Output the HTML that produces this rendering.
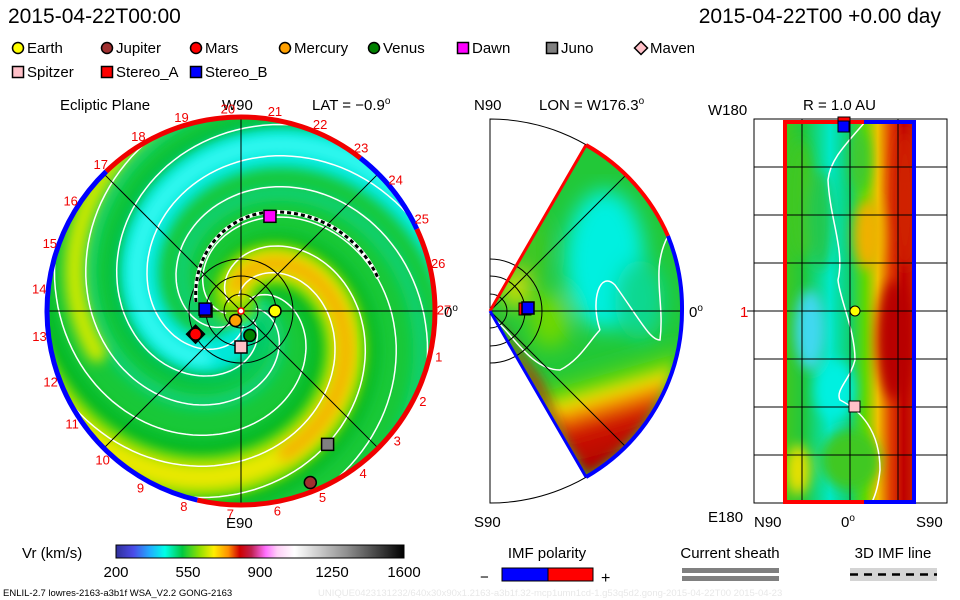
<!DOCTYPE html>
<html><head><meta charset="utf-8">
<style>
html,body{margin:0;padding:0;background:#fff;}
svg{display:block;font-family:"Liberation Sans",sans-serif;}
</style></head>
<body>
<svg id="root" width="960" height="600" viewBox="0 0 960 600" xmlns="http://www.w3.org/2000/svg">
<defs>
  <clipPath id="clipL"><circle cx="241" cy="311" r="194"/></clipPath>
  <clipPath id="clipM"><path d="M490,311 L586,145 A192,192 0 0 1 586,477 Z"/></clipPath>
  <clipPath id="clipR"><rect x="785" y="122" width="129" height="380"/></clipPath>
  <filter id="blur6"><feGaussianBlur stdDeviation="6"/></filter>
  <filter id="blur10"><feGaussianBlur stdDeviation="10"/></filter>
  <linearGradient id="cbar" x1="0" x2="1" y1="0" y2="0">
    <stop offset="0" stop-color="#30309a"/>
    <stop offset="0.06" stop-color="#4a4ae8"/>
    <stop offset="0.12" stop-color="#20b0ff"/>
    <stop offset="0.17" stop-color="#00ffe8"/>
    <stop offset="0.23" stop-color="#00c840"/>
    <stop offset="0.29" stop-color="#90e000"/>
    <stop offset="0.34" stop-color="#ffee00"/>
    <stop offset="0.39" stop-color="#ff9000"/>
    <stop offset="0.43" stop-color="#d00000"/>
    <stop offset="0.47" stop-color="#c02050"/>
    <stop offset="0.52" stop-color="#ff70ff"/>
    <stop offset="0.56" stop-color="#ffd0f8"/>
    <stop offset="0.62" stop-color="#ffffff"/>
    <stop offset="0.8" stop-color="#909090"/>
    <stop offset="1" stop-color="#000000"/>
  </linearGradient>
  <linearGradient id="midGrad" x1="0.3" y1="0.35" x2="0.5" y2="0.95">
    <stop offset="0" stop-color="#22c830" stop-opacity="0"/>
    <stop offset="0.25" stop-color="#6ed800" stop-opacity="0.8"/>
    <stop offset="0.38" stop-color="#f0e000"/>
    <stop offset="0.5" stop-color="#f08000"/>
    <stop offset="0.65" stop-color="#d01800"/>
    <stop offset="1" stop-color="#b00000"/>
  </linearGradient>
  <linearGradient id="rightGrad" x1="0" x2="1" y1="0" y2="0">
    <stop offset="0" stop-color="#40c820"/>
    <stop offset="0.15" stop-color="#20c840"/>
    <stop offset="0.35" stop-color="#00e8c8"/>
    <stop offset="0.5" stop-color="#10d070"/>
    <stop offset="0.62" stop-color="#60d800"/>
    <stop offset="0.72" stop-color="#f0c000"/>
    <stop offset="0.82" stop-color="#e04000"/>
    <stop offset="0.92" stop-color="#c00000"/>
    <stop offset="1" stop-color="#c82000"/>
  </linearGradient>
</defs>

<text x="8" y="23" font-size="21" fill="#000">2015-04-22T00:00</text>
<text x="941" y="23" font-size="21" fill="#000" text-anchor="end">2015-04-22T00 +0.00 day</text>

<g id="legend" font-size="15"></g>

<!-- LEFT PANEL -->
<g>
  <text x="60" y="110" font-size="15">Ecliptic Plane</text>
  <text x="222" y="110" font-size="15">W90</text>
  <text x="312" y="110" font-size="15">LAT = −0.9<tspan dy="-6" font-size="10">o</tspan></text>
  <g clip-path="url(#clipL)">
    <circle cx="241" cy="311" r="194" fill="#18c838"/>
    <g id="spiralBands"></g>
    <g id="spiralLines"></g>
  </g>
  <g id="leftGrid" stroke="#000" stroke-width="1" fill="none"></g>
  <path d="M196,302 C192,255 225,215 270,212 C320,210 360,238 378,278" fill="none" stroke="#fff" stroke-width="4"/>
  <path d="M196,302 C192,255 225,215 270,212 C320,210 360,238 378,278" fill="none" stroke="#000" stroke-width="3" stroke-dasharray="4,3"/>
  <g id="rim" fill="none" stroke-width="5"></g>
  <g id="dayLabels" fill="#f00000" font-size="13" text-anchor="middle"></g>
  <text x="444" y="317" font-size="15">0<tspan dy="-6" font-size="10">o</tspan></text>
  <text x="226" y="528" font-size="15">E90</text>
  <g id="leftMarkers"></g>
</g>

<!-- MIDDLE PANEL -->
<g>
  <text x="474" y="110" font-size="15">N90</text>
  <text x="539" y="110" font-size="15">LON = W176.3<tspan dy="-6" font-size="10">o</tspan></text>
  <path d="M490,119 A192,192 0 0 1 490,503 Z" fill="none" stroke="#000" stroke-width="1"/>
  <g clip-path="url(#clipM)">
    <rect x="480" y="130" width="210" height="360" fill="#22c838"/>
    <g filter="url(#blur10)">
      <ellipse cx="605" cy="260" rx="40" ry="70" fill="#00f0e0"/>
      <ellipse cx="640" cy="300" rx="25" ry="40" fill="#10d890"/>
      <ellipse cx="550" cy="320" rx="20" ry="28" fill="#70d800"/>
      <ellipse cx="530" cy="250" rx="18" ry="35" fill="#40c820"/>
      <ellipse cx="515" cy="290" rx="14" ry="18" fill="#d8e000"/>
    </g>
    <path d="M490,311 L586,477 A192,192 0 0 0 682,320 L590,345 L540,320 Z" fill="url(#midGrad)" filter="url(#blur6)"/>
    <path d="M490,311 L575,460 L540,380 L500,325 Z" fill="#c82000" filter="url(#blur6)"/>
    <path d="M600,330 C590,300 600,270 615,285 C640,320 650,340 660,340 C665,300 650,270 668,236" fill="none" stroke="#fff" stroke-width="1.5"/>
    <path d="M495,320 C510,330 530,370 560,370 C580,360 590,340 600,330" fill="none" stroke="#fff" stroke-width="1.5"/>
  </g>
  <g stroke="#000" stroke-width="1" fill="none">
    <line x1="490" y1="311" x2="682" y2="311"/>
    <line x1="490" y1="311" x2="625" y2="176"/>
    <line x1="490" y1="311" x2="625" y2="446"/>
    <path d="M490,294 A17,17 0 0 1 490,328"/>
    <path d="M490,276 A35,35 0 0 1 490,346"/>
    <path d="M490,259 A52,52 0 0 1 490,363"/>
  </g>
  <line x1="490" y1="311" x2="586" y2="145" stroke="#f00" stroke-width="3"/>
  <path d="M586,145 A192,192 0 0 1 668,236" fill="none" stroke="#f00" stroke-width="4"/>
  <path d="M668,236 A192,192 0 0 1 682,311 A192,192 0 0 1 586,477" fill="none" stroke="#0000ff" stroke-width="4"/>
  <line x1="490" y1="311" x2="586" y2="477" stroke="#0000ff" stroke-width="3"/>
  <rect x="519" y="303" width="12" height="12" fill="#f00" stroke="#000"/>
  <rect x="522" y="302" width="12" height="12" fill="#0000ff" stroke="#000" stroke-width="1.5"/>
  <text x="689" y="317" font-size="15">0<tspan dy="-6" font-size="10">o</tspan></text>
  <text x="474" y="527" font-size="15">S90</text>
</g>

<!-- RIGHT PANEL -->
<g>
  <text x="708" y="115" font-size="15">W180</text>
  <text x="803" y="110" font-size="15">R = 1.0 AU</text>
  <rect x="754" y="119" width="193" height="384" fill="none" stroke="#000"/>
  <g clip-path="url(#clipR)">
    <rect x="785" y="122" width="129" height="380" fill="url(#rightGrad)"/>
    <g filter="url(#blur6)">
      <ellipse cx="868" cy="235" rx="14" ry="35" fill="#f0b000"/>
      <ellipse cx="860" cy="160" rx="10" ry="30" fill="#40c830"/>
      <ellipse cx="810" cy="330" rx="15" ry="40" fill="#40d8f0"/>
      <ellipse cx="835" cy="390" rx="20" ry="30" fill="#00f0e0"/>
      <ellipse cx="798" cy="470" rx="12" ry="25" fill="#e8e000"/>
      <ellipse cx="850" cy="460" rx="30" ry="30" fill="#40c820"/>
      <ellipse cx="800" cy="200" rx="14" ry="60" fill="#40c820"/>
      <ellipse cx="905" cy="200" rx="12" ry="70" fill="#d02000"/>
      <ellipse cx="895" cy="340" rx="18" ry="60" fill="#b80000"/>
      <ellipse cx="820" cy="220" rx="12" ry="50" fill="#20c850"/>
    </g>
    <path d="M865,122 C845,145 830,160 828,180 C830,220 845,250 838,280 C840,300 855,330 855,360 C850,380 835,390 840,400 C860,410 880,430 880,470 C878,490 873,500 872,502" fill="none" stroke="#fff" stroke-width="1.5"/>
  </g>
  <g id="rightGrid" stroke="#000" stroke-width="1"></g>
  <path d="M864,122 L785,122 L785,502 L864,502" fill="none" stroke="#f00" stroke-width="4"/>
  <path d="M864,122 L914,122 L914,502 L864,502" fill="none" stroke="#0000ff" stroke-width="4"/>
  <text x="740" y="317" font-size="15" fill="#f00000">1</text>
  <text x="708" y="522" font-size="15">E180</text>
  <text x="754" y="527" font-size="15">N90</text>
  <text x="841" y="527" font-size="15">0<tspan dy="-6" font-size="10">o</tspan></text>
  <text x="916" y="527" font-size="15">S90</text>
  <rect x="838" y="117" width="12" height="12" fill="#f00" stroke="#000"/>
  <rect x="838" y="121" width="11" height="11" fill="#0000ff" stroke="#000"/>
  <circle cx="855" cy="311" r="5" fill="#ffff00" stroke="#000"/>
  <rect x="849" y="401" width="11" height="11" fill="#ffc0c8" stroke="#000"/>
</g>

<g>
  <text x="22" y="558" font-size="15">Vr (km/s)</text>
  <rect x="116" y="545" width="288" height="13" fill="url(#cbar)" stroke="#000"/>
  <g id="cbarTicks" font-size="15" text-anchor="middle"></g>
</g>

<g>
  <text x="547" y="558" font-size="15" text-anchor="middle">IMF polarity</text>
  <text x="480" y="582" font-size="15">−</text>
  <rect x="502" y="568" width="46" height="13" fill="#0000ff" stroke="#000"/>
  <rect x="548" y="568" width="45" height="13" fill="#ff0000" stroke="#000"/>
  <text x="601" y="583" font-size="16">+</text>
</g>
<g>
  <text x="730" y="558" font-size="15" text-anchor="middle">Current sheath</text>
  <rect x="682" y="568" width="97" height="5" fill="#808080"/>
  <rect x="682" y="576" width="97" height="5" fill="#808080"/>
</g>
<g>
  <text x="893" y="558" font-size="15" text-anchor="middle">3D IMF line</text>
  <rect x="850" y="568" width="87" height="13" fill="#d4d4d4"/>
  <line x1="850" y1="574.5" x2="937" y2="574.5" stroke="#000" stroke-width="2.5" stroke-dasharray="8,6"/>
</g>

<text x="3" y="596" font-size="9.5">ENLIL-2.7 lowres-2163-a3b1f WSA_V2.2 GONG-2163</text>
<text x="318" y="596" font-size="9.5" fill="#e8e8e8">UNIQUE0423131232/640x30x90x1.2163-a3b1f.32-mcp1umn1cd-1.g53q5d2.gong-2015-04-22T00   2015-04-23</text>
</svg>

<script>
const NS = "http://www.w3.org/2000/svg";
const cbarTickValues = [200, 550, 900, 1250, 1600];
const legendNames = ["Earth","Jupiter","Mars","Mercury","Venus","Dawn","Juno","Maven","Spitzer","Stereo_A","Stereo_B"];
const legendShapes = ["circle","circle","circle","circle","circle","square","square","diamond","square","square","square"];
const legendColors = ["#ffff00","#a03030","#ff0000","#ffa000","#008000","#ff00ff","#808080","#ffc0c8","#ffc0c8","#ff0000","#0000ff"];
const dayNumbers = [1,2,3,4,5,6,7,8,9,10,11,12,13,14,15,16,17,18,19,20,21,22,23,24,25,26,27];
const markerNames = ["Earth","Mercury","Venus","Spitzer","Maven","Mars","Stereo_A","Stereo_B","Dawn","Juno","Jupiter"];
const markerR = [34, 11, 26, 36, 51, 51, 35, 36, 99, 159, 185];
const markerAngle = [0, 120, 70, 90, 153, 153, 180, 183, -73, 57, 68];

function el(tag, attrs, parent){
  const e = document.createElementNS(NS, tag);
  for (const k in attrs) e.setAttribute(k, attrs[k]);
  parent.appendChild(e);
  return e;
}
function shape(kind, cx, cy, s, fill, parent){
  if (kind === "circle") return el("circle",{cx:cx,cy:cy,r:s/2,fill:fill,stroke:"#000","stroke-width":1.5},parent);
  if (kind === "square") return el("rect",{x:cx-s/2,y:cy-s/2,width:s,height:s,fill:fill,stroke:"#000","stroke-width":1.5},parent);
  const h = s/2+1;
  return el("path",{d:`M${cx},${cy-h} L${cx+h},${cy} L${cx},${cy+h} L${cx-h},${cy} Z`,fill:fill,stroke:"#000","stroke-width":1.5},parent);
}

const lg = document.getElementById("legend");
legendNames.forEach((n,i)=>{
  const row = i < 8 ? 0 : 1, col = i < 8 ? i : i-8;
  const x = 12 + col*89, y = 48 + row*24;
  const g = el("g",{},lg);
  
  
  shape(legendShapes[i], x+6, y, 11, legendColors[i], g);
  const t = el("text",{x:x+15,y:y+5},g);
  t.textContent = n;
});

const cb = document.getElementById("cbarTicks");
const cbX = v => 116 + (v-200)/(1600-200)*288;
cbarTickValues.forEach(v=>{
  const t = el("text",{x:cbX(v),y:577},cb);
  
  
  t.textContent = v;
});

const CX = 241, CY = 311;
const K = 1.4 * Math.PI/180;
function spiral(theta0deg, r0, r1){
  let d = "";
  for (let r = r0; r <= r1; r += 2){
    const th = theta0deg*Math.PI/180 + r*K;
    const x = CX + r*Math.cos(th), y = CY + r*Math.sin(th);
    d += (d ? " L" : "M") + x.toFixed(1) + "," + y.toFixed(1);
  }
  return d;
}
const bands = document.getElementById("spiralBands");
const bandDefs = [
  [-136+180, 5, 260, 46, "#00e8d8"],
  [-136+180, 60, 260, 18, "#30f8f0"],
  [-136+110, 20, 260, 16, "#10d070"],
  [-136+250, 20, 260, 16, "#10d070"],
  [-136-35, 20, 260, 18, "#00b828"],
  [-136+40, 20, 260, 18, "#00b828"],
  [-136+145, 20, 260, 10, "#00b828"],
  [-136, 10, 260, 44, "#70d800"],
  [-136, 20, 240, 26, "#e8e800"],
  [-136, 25, 150, 14, "#f4b000"],
  [-136+90, 150, 260, 20, "#c8e800"]
];
bandDefs.forEach((b,i)=>{
  const p = el("path",{d:spiral(b[0],b[1],b[2]),fill:"none",stroke:b[4],"stroke-width":b[3],"stroke-linecap":"round",filter:"url(#blur6)"},bands);
  
  
});
const lines = document.getElementById("spiralLines");
for (let i = 0; i < 8; i++){
  const p = el("path",{d:spiral(-120 + i*45, 15, 260),fill:"none",stroke:"#fff","stroke-width":1.5},lines);
  
  
}

const lgd = document.getElementById("leftGrid");
[0,45,90,135].forEach(a=>{
  const t = a*Math.PI/180;
  el("line",{x1:CX-194*Math.cos(t),y1:CY-194*Math.sin(t),x2:CX+194*Math.cos(t),y2:CY+194*Math.sin(t)},lgd);
});
[17,35,52].forEach(r=>el("circle",{cx:CX,cy:CY,r:r},lgd));

const rim = document.getElementById("rim");
function arc(a0,a1,color){
  const p0 = [CX+194*Math.cos(a0*Math.PI/180), CY+194*Math.sin(a0*Math.PI/180)];
  const p1 = [CX+194*Math.cos(a1*Math.PI/180), CY+194*Math.sin(a1*Math.PI/180)];
  const large = (a1-a0) > 180 ? 1 : 0;
  el("path",{d:`M${p0[0]},${p0[1]} A194,194 0 ${large} 1 ${p1[0]},${p1[1]}`,stroke:color},rim);
}
arc(-134,-52,"#f00000");
arc(-52,-25,"#0000ff");
arc(-25,103,"#f00000");
arc(103,226,"#0000ff");

const dl = document.getElementById("dayLabels");
dayNumbers.forEach(n=>{
  const a = (93 + (n-7)*13.33)*Math.PI/180;
  const t = el("text",{x:CX+203*Math.cos(a),y:CY+203*Math.sin(a)+5},dl);
  
  
  t.textContent = n;
});

el("circle",{cx:CX,cy:CY,r:3,fill:"#fff",stroke:"#f00","stroke-width":1.5},document.getElementById("leftMarkers"));

const lm = document.getElementById("leftMarkers");
markerNames.forEach((n,i)=>{
  const idx = legendNames.indexOf(n);
  const a = markerAngle[i]*Math.PI/180;
  const x = CX + markerR[i]*Math.cos(a), y = CY + markerR[i]*Math.sin(a);
  const size = n==="Maven" ? 16 : 12;
  const fill = n==="Maven" ? "#000" : legendColors[idx];
  const s = shape(legendShapes[idx], x, y, size, fill, lm);
  
  
});

const rg = document.getElementById("rightGrid");
[167,215,263,311,359,407,455].forEach(y=>el("line",{x1:754,y1:y,x2:947,y2:y},rg));
[802,850,898].forEach(x=>el("line",{x1:x,y1:119,x2:x,y2:503},rg));
el("line",{x1:747,y1:311,x2:754,y2:311},rg);
</script>
</body></html>
